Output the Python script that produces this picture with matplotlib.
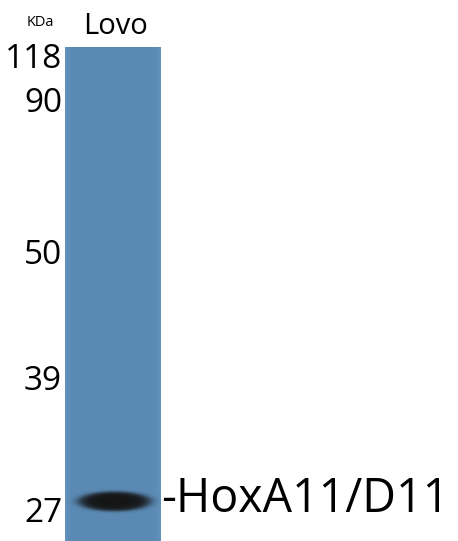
import numpy as np
import matplotlib.pyplot as plt

# marker ladder (kDa) and where each sits on the blot
markers = [118, 90, 50, 39, 27]
marker_labels = ["118", "90", "50", "39", "27"]
lane_name = "Lovo"
band_label = "-HoxA11/D11"
band_kda = 28.0
band_strength = 1.0

W, H = 458, 541
fig = plt.figure(figsize=(W / 100, H / 100), dpi=100)
ax = fig.add_axes([0, 0, 1, 1])
ax.set_xlim(0, W)
ax.set_ylim(H, 0)
ax.axis("off")

# map kDa -> pixel row using the ladder (log scale between rungs)
marker_rows = [60, 103, 255, 381, 514]
def kda_to_row(k):
    return np.interp(-np.log(k), -np.log(markers), marker_rows)

# lane image with band
x0, x1, y0, y1 = 65, 161, 47, 541
nx, ny = x1 - x0, y1 - y0
xx, yy = np.meshgrid(np.arange(nx), np.arange(ny))
base = np.array([0.355, 0.54, 0.705])
img = np.ones((ny, nx, 3)) * base
# slightly lighter edges
edge = np.exp(-xx / 3.0) + np.exp(-(nx - 1 - xx) / 3.0)
img += 0.04 * edge[..., None]

by = kda_to_row(band_kda) - y0
bx = 49
d = ((xx - bx) / 35.0) ** 2 + ((yy - by) / 9.5) ** 2
dens = band_strength / (1 + np.exp((d - 1.0) * 5.0))
img = img * (1 - dens[..., None]) + np.array([0.08, 0.08, 0.08]) * dens[..., None]
ax.imshow(np.clip(img, 0, 1), extent=(x0, x1, y1, y0), interpolation="bilinear", zorder=1)

font = "Open Sans"
for lab, k in zip(marker_labels, markers):
    ax.text(62, kda_to_row(k), lab, ha="right", va="center", fontsize=24,
            family=font, color="black")
ax.text(40, 22, "KDa", ha="center", va="center", fontsize=10.5, family=font, color="black")
ax.text(115, 26, lane_name, ha="center", va="center", fontsize=21, family=font, color="black")
ax.text(161, kda_to_row(band_kda) - 2, band_label, ha="left", va="center", fontsize=33.5,
        family=font, color="black")

fig.savefig("out.png", dpi=100, facecolor="white")
